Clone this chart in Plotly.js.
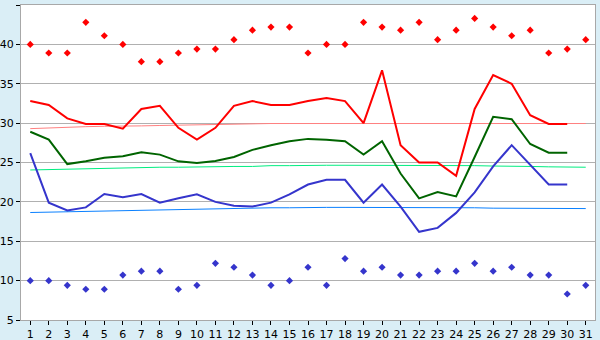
<!DOCTYPE html>
<html>
<head>
<meta charset="utf-8">
<script src="https://cdn.plot.ly/plotly-3.0.1.min.js"></script>
<style>
html,body{margin:0;padding:0;background:#daeef6;}
#chart{width:600px;height:340px;}
</style>
</head>
<body>
<div id="chart"></div>
<script>
const days = Array.from({length: 31}, (_, i) => i + 1);
const daysAvg = days.slice(0, 30);

const maxRecord = [40, 38.9, 38.9, 42.8, 41.1, 40, 37.8, 37.8, 38.9, 39.4, 39.4, 40.6, 41.8, 42.2, 42.2, 38.9, 40, 40, 42.8, 42.2, 41.8, 42.8, 40.6, 41.8, 43.3, 42.2, 41.1, 41.8, 38.9, 39.4, 40.6];
const minRecord = [10, 10, 9.4, 8.9, 8.9, 10.7, 11.2, 11.2, 8.9, 9.4, 12.2, 11.7, 10.7, 9.4, 10, 11.7, 9.4, 12.8, 11.2, 11.7, 10.7, 10.7, 11.2, 11.2, 12.2, 11.2, 11.7, 10.7, 10.7, 8.3, 9.4];

const maxTemp = [32.8, 32.3, 30.6, 29.9, 29.9, 29.3, 31.8, 32.2, 29.4, 27.9, 29.4, 32.2, 32.8, 32.3, 32.3, 32.8, 33.2, 32.8, 30.0, 36.7, 27.2, 25.0, 25.0, 23.3, 31.8, 36.1, 35.0, 31.0, 29.9, 29.9];
const meanTemp = [28.9, 27.9, 24.8, 25.15, 25.6, 25.8, 26.3, 26.0, 25.15, 24.95, 25.2, 25.7, 26.6, 27.2, 27.7, 28.0, 27.9, 27.7, 26.0, 27.7, 23.6, 20.45, 21.25, 20.7, 25.7, 30.8, 30.5, 27.35, 26.25, 26.25];
const minTemp = [26.2, 19.9, 18.9, 19.3, 21.0, 20.6, 21.0, 19.9, 20.45, 20.95, 20.0, 19.5, 19.4, 19.9, 20.95, 22.2, 22.8, 22.8, 19.9, 22.2, 19.4, 16.2, 16.7, 18.6, 21.2, 24.5, 27.2, 24.7, 22.2, 22.2];

const normalMax = [29.3, 29.4, 29.5, 29.55, 29.6, 29.6, 29.65, 29.7, 29.75, 29.8, 29.85, 29.9, 29.9, 29.95, 29.95, 29.95, 29.95, 29.95, 29.95, 29.95, 29.95, 29.95, 29.95, 29.95, 29.95, 29.95, 29.95, 29.95, 29.95, 29.95, 29.95];
const normalMean = [24.05, 24.1, 24.15, 24.25, 24.25, 24.3, 24.35, 24.4, 24.4, 24.45, 24.45, 24.5, 24.5, 24.6, 24.6, 24.65, 24.65, 24.65, 24.65, 24.65, 24.65, 24.65, 24.65, 24.65, 24.6, 24.55, 24.55, 24.5, 24.45, 24.4, 24.4];
const normalMin = [18.65, 18.7, 18.75, 18.8, 18.85, 18.9, 18.95, 19.0, 19.05, 19.1, 19.15, 19.2, 19.2, 19.25, 19.25, 19.3, 19.3, 19.3, 19.3, 19.3, 19.3, 19.3, 19.3, 19.3, 19.25, 19.2, 19.2, 19.2, 19.15, 19.15, 19.15];

const yTicks = [5, 10, 15, 20, 25, 30, 35, 40, 45];

const traces = [
  {x: days, y: normalMax, mode: 'lines', line: {color: '#ff8080', width: 1}, hoverinfo: 'skip'},
  {x: days, y: normalMean, mode: 'lines', line: {color: '#00ee80', width: 1}, hoverinfo: 'skip'},
  {x: days, y: normalMin, mode: 'lines', line: {color: '#0a80ff', width: 1}, hoverinfo: 'skip'},
  {x: daysAvg, y: maxTemp, mode: 'lines', line: {color: '#ff0000', width: 2}},
  {x: daysAvg, y: meanTemp, mode: 'lines', line: {color: '#006400', width: 2}},
  {x: daysAvg, y: minTemp, mode: 'lines', line: {color: '#3535cc', width: 2}},
  {x: days, y: maxRecord, mode: 'markers', marker: {symbol: 'diamond', size: 5.5, color: '#ff0000'}},
  {x: days, y: minRecord, mode: 'markers', marker: {symbol: 'diamond', size: 5.5, color: '#3535cc'}}
];

const layout = {
  width: 600, height: 340,
  margin: {l: 21, r: 5, t: 5, b: 20, pad: 0},
  paper_bgcolor: '#daeef6',
  plot_bgcolor: '#ffffff',
  showlegend: false,
  font: {family: 'DejaVu Sans, Verdana, sans-serif', size: 11, color: '#000000'},
  xaxis: {
    range: [0.5, 31.5],
    tickvals: days,
    ticktext: days.map(String),
    ticks: 'outside', ticklen: 4, tickcolor: '#000000',
    showgrid: false, zeroline: false,
    showline: true, linecolor: '#a8a8a8', linewidth: 1, mirror: true,
    tickfont: {size: 11}
  },
  yaxis: {
    range: [5, 45],
    tickvals: yTicks,
    ticks: 'outside', ticklen: 4, tickcolor: '#000000',
    showgrid: true, gridcolor: '#b0b0b0', gridwidth: 1,
    zeroline: false,
    showline: true, linecolor: '#a8a8a8', linewidth: 1, mirror: true,
    tickfont: {size: 11}
  }
};

Plotly.newPlot('chart', traces, layout, {staticPlot: true, displayModeBar: false});
</script>
</body>
</html>
